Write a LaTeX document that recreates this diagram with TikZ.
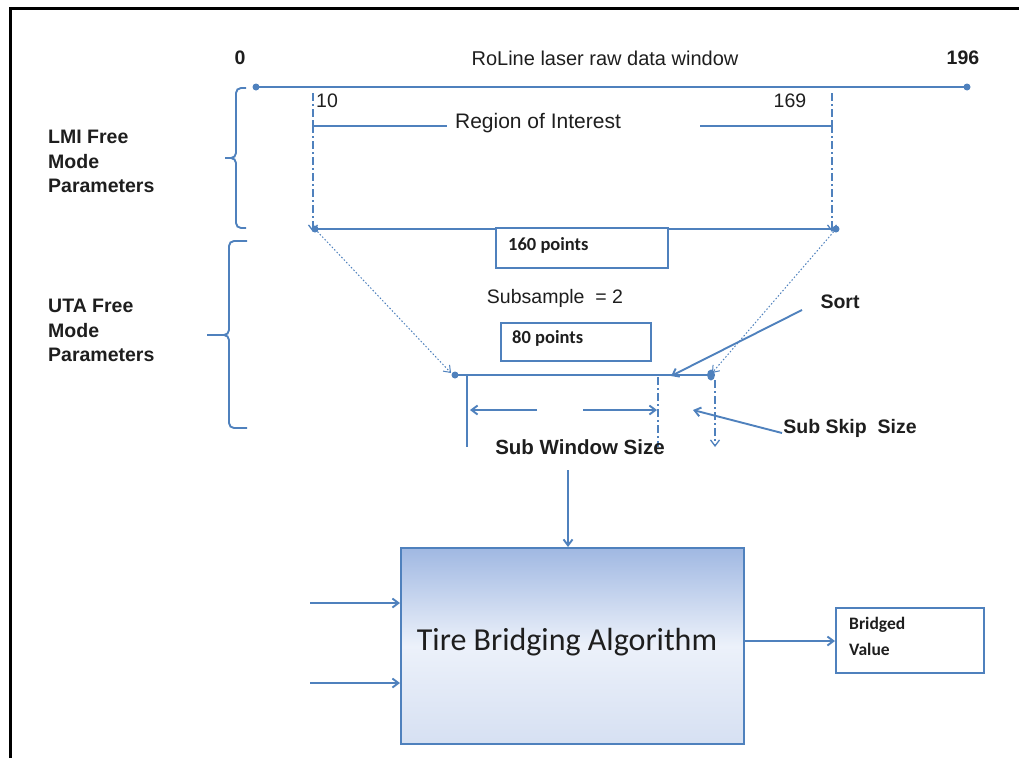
\documentclass[tikz,border=0pt]{standalone}
\usepackage{fontspec}
\setmainfont{Liberation Sans}
\newfontfamily\calfont{Carlito}
\usetikzlibrary{arrows.meta,shapes.geometric}
\definecolor{lineblue}{RGB}{79,129,189}
\definecolor{txt}{RGB}{30,30,30}
\definecolor{topblue}{RGB}{160,184,226}
\definecolor{midblue}{RGB}{236,241,250}
\definecolor{botblue}{RGB}{214,224,242}
\tikzset{
  bl/.style={draw=lineblue, line width=1.9pt},
  tip/.style={-{Straight Barb[length=6pt,width=9pt]}},
  dashdot/.style={draw=lineblue, line width=1.3pt, dash pattern=on 8pt off 3pt on 2pt off 3pt},
  dotl/.style={draw=lineblue, line width=1pt, dash pattern=on 1.5pt off 2pt},
  dotend/.style={circle, fill=lineblue, inner sep=0pt, minimum size=7pt},
  lbl/.style={text=txt, inner sep=0pt, font=\fontsize{19.5}{22}\selectfont},
  blbl/.style={text=txt, inner sep=0pt, font=\fontsize{19.5}{22}\selectfont\bfseries},
  leftlbl/.style={text=txt, inner sep=0pt, align=left, anchor=north west, font=\fontsize{19.5}{24.5}\selectfont\bfseries},
  ptbox/.style={draw=lineblue, line width=1.9pt, inner sep=0pt},
  ptlbl/.style={text=txt, inner sep=0pt, anchor=west, font=\calfont\fontsize{18.5}{20}\selectfont\bfseries},
}
\begin{document}
\begin{tikzpicture}[x=1pt,y=-1pt]
\useasboundingbox (0,0) rectangle (1019,758);
% frame
\draw[line width=3pt, black] (10,758) -- (10,8) -- (1019,8);

% raw data window
\node[blbl] (n0) at (240,58) {0};
\node[lbl, font=\fontsize{20}{22}\selectfont] (title) at (605,58) {RoLine laser raw data window};
\node[blbl] (n196) at (963,58) {196};
\coordinate (r0) at (256,87);
\coordinate (r196) at (967,87);
\draw[bl] (r0) -- (r196);
\node[dotend] at (r0) {};
\node[dotend] at (r196) {};

% ROI
\node[lbl, anchor=west] (n10) at (316,101) {10};
\node[lbl] (n169) at (790,101) {169};
\coordinate (roiLtop) at (313,93);
\coordinate (roiRtop) at (832,93);
\coordinate (p160L) at (315,229);
\coordinate (p160R) at (836,229);
\draw[dashdot, tip] (roiLtop) -- ([yshift=-3pt]p160L -| roiLtop);
\draw[dashdot, tip] (roiRtop) -- ([yshift=-3pt]p160R -| roiRtop);
\node[lbl, font=\fontsize{21}{22}\selectfont] (roi) at (538,123) {Region of Interest};
\coordinate (roiA) at (313,126);
\coordinate (roiB) at (447,126);
\coordinate (roiC) at (700,126);
\coordinate (roiD) at (832,126);
\draw[bl] ([yshift=6pt]roiA) -- (roiA) -- (roiB);
\draw[bl] (roiC) -- (roiD) -- ([yshift=6pt]roiD);

% braces
\draw[bl, rounded corners=5pt] (246,88) -- (236,88) -- (236,158) -- (225,158);
\draw[bl, rounded corners=5pt] (225,158) -- (236,158) -- (236,228) -- (246,228);
\draw[bl, rounded corners=5pt] (247,241) -- (229,241) -- (229,335) -- (207,335);
\draw[bl, rounded corners=5pt] (207,335) -- (229,335) -- (229,428) -- (247,428);
\node[leftlbl] (lmi) at (48,130) {LMI Free\\Mode\\Parameters};
\node[leftlbl] (uta) at (48,299) {UTA Free\\Mode\\Parameters};

% 160 points line
\node[ptbox, minimum width=172pt, minimum height=40pt, anchor=north west] (box160) at (495,227) {};
\draw[bl] (p160L) -- (box160.north west |- p160L);
\draw[bl] (box160.north east |- p160R) -- (p160R);
\node[dotend] at (p160L) {};
\node[dotend] at (p160R) {};
\node[ptlbl] (t160) at (508,245) {160 points};

\node[lbl] (subs) at (555,298) {Subsample\ \ = 2};
\node[ptbox, minimum width=150pt, minimum height=38pt, anchor=north west] (box80) at (500,322) {};
\node[ptlbl] (t80) at (512,338) {80 points};

% 80 points line
\coordinate (p80L) at (455,375);
\coordinate (p80R) at (711,375);
\draw[bl] (p80L) -- (p80R);
\node[dotend] at (p80L) {};
\node[ellipse, fill=lineblue, inner sep=0pt, minimum width=8pt, minimum height=11pt] at (p80R) {};
\draw[dotl, tip] (p160L) -- ([shift={(-4pt,2pt)}]p80L);
\draw[dotl, tip] (p160R) -- ([shift={(1pt,2pt)}]p80R);

% sub window
\coordinate (swL) at (467,375);
\coordinate (swLb) at (467,447);
\draw[bl] (swL) -- (swLb);
\coordinate (swR) at (658,377);
\coordinate (swRb) at (658,447);
\draw[dashdot] (swR) -- (swRb);
\coordinate (skR) at (715,380);
\coordinate (skRb) at (715,447);
\draw[dashdot, tip] (skR) -- (skRb);
\coordinate (arL1) at (537,410);
\coordinate (arL2) at (470,410);
\coordinate (arR1) at (583,410);
\coordinate (arR2) at (657,410);
\draw[bl, tip] (arL1) -- (arL2);
\draw[bl, tip] (arR1) -- (arR2);
\node[blbl, font=\fontsize{20.5}{22}\selectfont\bfseries] (swlbl) at (580,447) {Sub Window Size};

% sort and skip
\node[blbl] (sort) at (840,302) {Sort};
\coordinate (sortS) at (802,310);
\coordinate (sortE) at (671,376);
\draw[bl, tip] (sortS) -- (sortE);
\node[blbl] (skip) at (850,428) {Sub Skip\ \ Size};
\coordinate (skipS) at (782,433);
\coordinate (skipE) at (693,410);
\draw[bl, tip] (skipS) -- (skipE);

% algorithm box
\coordinate (algin) at (568,470);
\node[draw=lineblue, line width=2pt, minimum width=343pt, minimum height=196pt, anchor=north west,
      top color=topblue, bottom color=botblue, middle color=midblue, inner sep=0pt] (alg) at (400,547) {};
\node[text=txt, font=\calfont\fontsize{32}{34}\selectfont] (algt) at (567,642) {Tire Bridging Algorithm};
\draw[bl, tip] (algin) -- (alg.north -| algin);
\coordinate (in1) at (310,603);
\coordinate (in2) at (310,683);
\draw[bl, tip] (in1) -- (alg.west |- in1);
\draw[bl, tip] (in2) -- (alg.west |- in2);
\node[ptbox, minimum width=148pt, minimum height=65pt, anchor=north west] (out) at (835,607) {};
\draw[bl, tip] (alg.east |- 0,641) -- (out.west |- 0,641);
\node[text=txt, inner sep=0pt, anchor=north west, align=left, font=\calfont\fontsize{17.5}{26}\selectfont\bfseries] (outt) at (849,617) {Bridged\\Value};
\end{tikzpicture}
\end{document}
